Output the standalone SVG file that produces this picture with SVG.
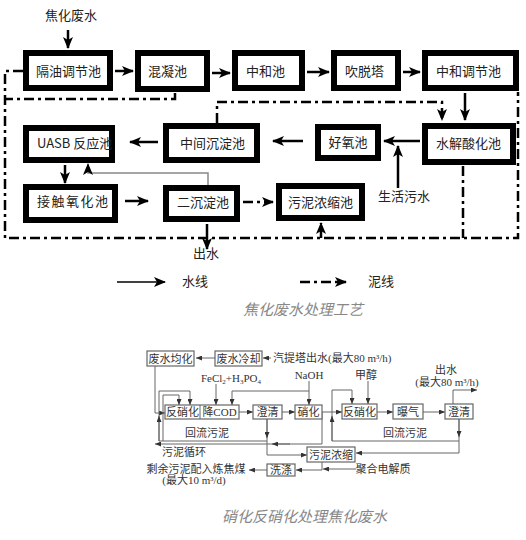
<svg xmlns="http://www.w3.org/2000/svg" width="526" height="540" viewBox="0 0 526 540">
<defs>
<style>
.box{fill:#fff;stroke:#000;stroke-width:6}
.t{font-family:"Noto Sans CJK SC","Liberation Sans",sans-serif;font-size:13px;fill:#222}
.w{stroke:#000;stroke-width:2.5;fill:none;marker-end:url(#ah)}
.s{stroke:#000;stroke-width:2.5;fill:none;stroke-dasharray:10 4 3 4}
.sa{marker-end:url(#ah)}
.g{stroke:#888;stroke-width:1.5;fill:none;marker-end:url(#ah)}
.b{fill:#fff;stroke:#666;stroke-width:1.2}
.bt{font-family:"Liberation Serif","Noto Sans CJK SC",serif;font-size:11px;fill:#333;text-anchor:middle}
.st{text-anchor:start}
.l{stroke:#666;stroke-width:1;fill:none}
.la{marker-end:url(#sa)}
.cap{font-family:"Noto Sans CJK SC",sans-serif;font-size:15px;font-style:italic;fill:#888}
</style>
<marker id="ah" markerWidth="12" markerHeight="10" refX="11" refY="5" orient="auto" markerUnits="userSpaceOnUse"><path d="M0,0 L12,5 L0,10 L3,5 z" fill="#000"/></marker>
<marker id="sa" markerWidth="6" markerHeight="5" refX="6" refY="2.5" orient="auto" markerUnits="userSpaceOnUse"><path d="M0,0 L6,2.5 L0,5 z" fill="#333"/></marker>
</defs>
<rect width="526" height="540" fill="#fff"/>

<!-- ===== Top diagram connectors ===== -->
<g id="connectors-top">
<text class="t" x="45" y="20">焦化废水</text>
<path class="w" d="M68,30 V48"/>
<path class="w" d="M115,71 H133"/>
<path class="w" d="M212,73 H230"/>
<path class="w" d="M307,72 H329"/>
<path class="w" d="M403,72 H420"/>
<path class="w" d="M465,93 V120"/>
<path class="w" d="M420,141 H384"/>
<path class="w" d="M303,141 H273"/>
<path class="w" d="M158,142 H130"/>
<path class="w" d="M65,165 V183"/>
<path class="w" d="M125,201 H148"/>
<path class="w" d="M398,188 V146"/>
<path class="w" d="M207,224 V249"/>
<path class="g" d="M208,188 V173 H88 V164"/>
<path class="s" d="M23,71 H5 V238 H518 V92"/>
<path class="s" d="M175,93 V99 H5"/>
<path class="s sa" d="M217,123 V102 H442 V120"/>
<path class="s" d="M463,166 V238"/>
<path class="s sa" d="M321,238 V223"/>
<path class="s sa" d="M243,202 H273"/>
<text class="t" x="378" y="201">生活污水</text>
<text class="t" x="193" y="258" font-size="12">出水</text>
</g>

<!-- ===== Top diagram nodes ===== -->
<g id="n-geyou"><rect class="box" x="26" y="53" width="84" height="35"/><text class="t" x="36" y="76">隔油调节池</text></g>
<g id="n-hunning"><rect class="box" x="138" y="53" width="69" height="36"/><text class="t" x="148" y="76">混凝池</text></g>
<g id="n-zhonghe"><rect class="box" x="235" y="53" width="67" height="35"/><text class="t" x="246" y="76">中和池</text></g>
<g id="n-chuituo"><rect class="box" x="334" y="53" width="64" height="35"/><text class="t" x="345" y="76">吹脱塔</text></g>
<g id="n-zhtj"><rect class="box" x="425" y="53" width="91" height="35"/><text class="t" x="436" y="76">中和调节池</text></g>
<g id="n-uasb"><rect class="box" x="26" y="128" width="86" height="32"/><text class="t" x="37" y="148">UASB 反应池</text></g>
<g id="n-zjcd"><rect class="box" x="166" y="126" width="91" height="34"/><text class="t" x="180" y="148">中间沉淀池</text></g>
<g id="n-haoyang"><rect class="box" x="318" y="127" width="60" height="31"/><text class="t" x="348" y="147" text-anchor="middle">好氧池</text></g>
<g id="n-shuijie"><rect class="box" x="425" y="126" width="88" height="36"/><text class="t" x="436" y="148">水解酸化池</text></g>
<g id="n-jiechu"><rect class="box" x="26" y="187" width="89" height="33"/><text class="t" x="37" y="206" letter-spacing="1.5">接触氧化池</text></g>
<g id="n-erchen"><rect class="box" x="166" y="188" width="71" height="31"/><text class="t" x="177" y="207">二沉淀池</text></g>
<g id="n-wuni"><rect class="box" x="279" y="186" width="83" height="32"/><text class="t" x="288" y="207">污泥浓缩池</text></g>

<!-- Legend -->
<g id="legend">
<path stroke="#000" stroke-width="1.5" fill="none" marker-end="url(#ah)" d="M117,282 H165"/>
<text class="t" x="182" y="286">水线</text>
<path stroke="#000" stroke-width="2.5" fill="none" stroke-dasharray="10 4 3 4" marker-end="url(#ah)" d="M300,282 H346"/>
<text class="t" x="368" y="286">泥线</text>
<text class="cap" x="243" y="315">焦化废水处理工艺</text>
</g>

<!-- ===== Bottom diagram connectors ===== -->
<g id="connectors-bottom">
<path class="l la" d="M271,358 H263"/>
<path class="l la" d="M215,358 H196"/>
<path class="l la" d="M155,366 V413 H165"/>
<path class="l la" d="M267,419 V441 H159 V391 H190 V405"/>
<path class="l la" d="M159,441 V416"/>
<path class="l la" d="M163,441 V395 H179 V405"/>
<path class="l la" d="M267,419 V438"/>
<path class="l la" d="M322,412 V444 H155"/>
<path class="l la" d="M290,444 H272"/>
<path class="l la" d="M267,441 V455 H307"/>
<path class="l la" d="M216,384 V405"/>
<path class="l la" d="M309,381 V405"/>
<path class="l la" d="M309,391 H232 V405"/>
<path class="l la" d="M368,381 V404"/>
<path class="l la" d="M239,412 H253"/>
<path class="l la" d="M282,412 H295"/>
<path class="l la" d="M322,412 H342"/>
<path class="l la" d="M377,412 H393"/>
<path class="l la" d="M423,412 H445"/>
<path class="l la" d="M453,404 V390 H477"/>
<path class="l la" d="M459,419 V441 H332 V390 H352 V404"/>
<path class="l la" d="M332,441 V416"/>
<path class="l la" d="M459,419 V437"/>
<path class="l la" d="M459,441 V453 H356"/>
<path class="l la" d="M322,462 V470 H296"/>
<path class="l la" d="M356,469 H323"/>
<path class="l la" d="M267,470 H249"/>
</g>

<!-- ===== Bottom diagram nodes ===== -->
<g id="b-junhua"><rect class="b" x="147" y="351" width="47" height="15"/><text class="bt" x="170.5" y="362.5">废水均化</text></g>
<g id="b-lengque"><rect class="b" x="215" y="351" width="47" height="15"/><text class="bt" x="238.5" y="362.5">废水冷却</text></g>
<g id="b-fanxiao1"><rect class="b" x="165" y="405" width="74" height="14"/><line class="l" x1="200" y1="405" x2="200" y2="419"/><text class="bt" x="182.5" y="416">反硝化</text><text class="bt" x="219.5" y="416">降COD</text></g>
<g id="b-chengqing1"><rect class="b" x="253" y="405" width="29" height="14"/><text class="bt" x="267.5" y="416">澄清</text></g>
<g id="b-xiaohua"><rect class="b" x="295" y="405" width="27" height="14"/><text class="bt" x="308.5" y="416">硝化</text></g>
<g id="b-fanxiao2"><rect class="b" x="342" y="404" width="35" height="15"/><text class="bt" x="359.5" y="416">反硝化</text></g>
<g id="b-baoqi"><rect class="b" x="393" y="404" width="30" height="15"/><text class="bt" x="408" y="416">曝气</text></g>
<g id="b-chengqing2"><rect class="b" x="445" y="404" width="28" height="15"/><text class="bt" x="459" y="416">澄清</text></g>
<g id="b-nongsuo"><rect class="b" x="307" y="447" width="48" height="15"/><text class="bt" x="331" y="458.5">污泥浓缩</text></g>
<g id="b-xidi"><rect class="b" x="267" y="464" width="28" height="12"/><text class="bt" x="281" y="474">洗涤</text></g>

<g id="bottom-labels">
<text class="bt st" x="273" y="362">汽提塔出水(最大80 m³/h)</text>
<text class="bt" x="231" y="382">FeCl<tspan font-size="7" dy="2">2</tspan><tspan dy="-2">+H</tspan><tspan font-size="7" dy="2">3</tspan><tspan dy="-2">PO</tspan><tspan font-size="7" dy="2">4</tspan></text>
<text class="bt" x="309" y="379">NaOH</text>
<text class="bt" x="366" y="379">甲醇</text>
<text class="bt" x="446" y="374">出水</text>
<text class="bt" x="447" y="386">(最大80 m³/h)</text>
<text class="bt" x="207" y="437">回流污泥</text>
<text class="bt" x="405" y="437">回流污泥</text>
<text class="bt" x="184" y="456">污泥循环</text>
<text class="bt" x="196" y="473">剩余污泥配入炼焦煤</text>
<text class="bt" x="194" y="484">(最大10 m³/d)</text>
<text class="bt" x="383" y="473">聚合电解质</text>
<text class="cap" x="222" y="522">硝化反硝化处理焦化废水</text>
</g>
</svg>
